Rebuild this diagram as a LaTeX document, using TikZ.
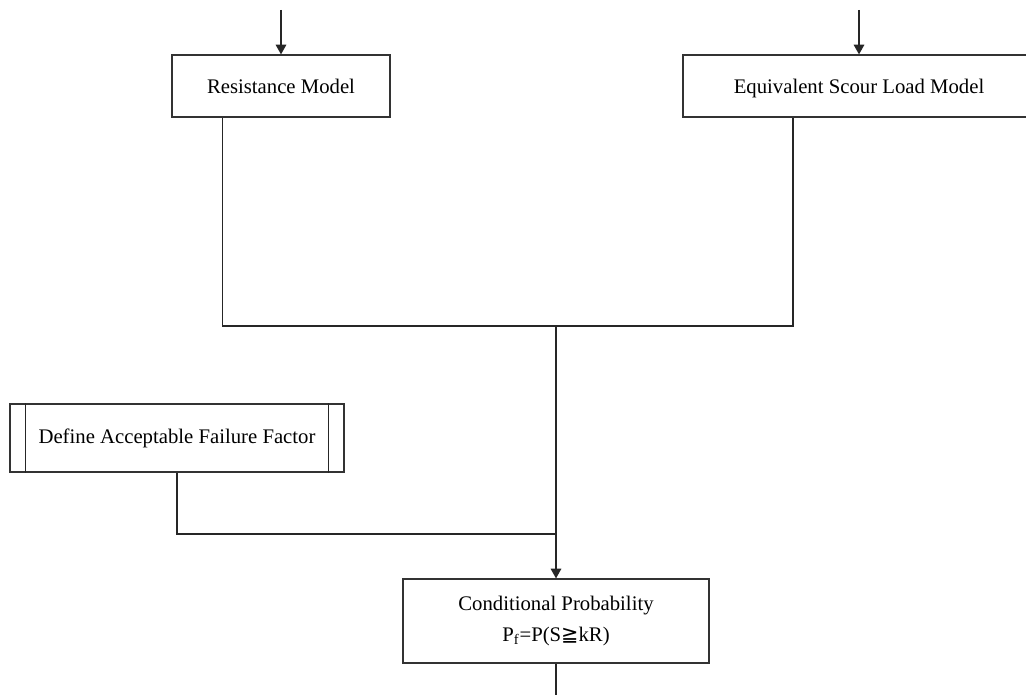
\documentclass[tikz,border=0pt]{standalone}
\usepackage{fontspec}
\setmainfont{Liberation Serif}
\newfontfamily\symfont{DejaVu Sans}
\usetikzlibrary{arrows.meta, calc}

\begin{document}
\begin{tikzpicture}[x=0.02cm, y=-0.02cm,
  box/.style={draw=black!80, line width=0.7pt, fill=white, align=center,
    inner sep=0pt, font=\fontsize{11.8}{18}\selectfont},
  model/.style={box, minimum height=1.24cm, text height=10pt, text depth=1pt},
  link/.style={draw=black!85, line width=0.7pt},
  >={Triangle[length=5.5pt,width=6pt]}]
  \useasboundingbox (0,0) rectangle (1026,695);
  % the two models
  \node[model, minimum width=4.36cm] (res) at (281,86) {Resistance Model};
  \node[model, minimum width=7.04cm] (eq) at (859,86) {Equivalent Scour Load Model};
  % predefined process box, double sides
  \node[box, minimum width=6.68cm, minimum height=1.36cm] (fac) at (177,438) {Define Acceptable Failure Factor};
  \draw[link] ($(fac.north west)+(16,0)$) -- ($(fac.south west)+(16,0)$)
              ($(fac.north east)+(-16,0)$) -- ($(fac.south east)+(-16,0)$);
  \node[box, minimum width=6.12cm, minimum height=1.68cm] (cond) at (556,621)
    {Conditional Probability\\P\textsubscript{f}=P(S{\symfont ≧}kR)};

  \coordinate (resin) at (281,10);
  \coordinate (eqin) at (859,10);
  \coordinate (join) at (556,326);
  \coordinate (merge) at (556,534);
  \coordinate (out) at (556,695);

  \draw[link,->] (resin) -- (res.north);
  \draw[link,->] (eqin) -- (eq.north);
  \draw[link] ($(res.south west)+(51,0)$) |- (join) -| ($(eq.south)+(-66,0)$);
  \draw[link,->] (join) -- (cond.north);
  \draw[link] (fac.south) |- (merge);
  \draw[link] (cond.south) -- (out);
\end{tikzpicture}
\end{document}
